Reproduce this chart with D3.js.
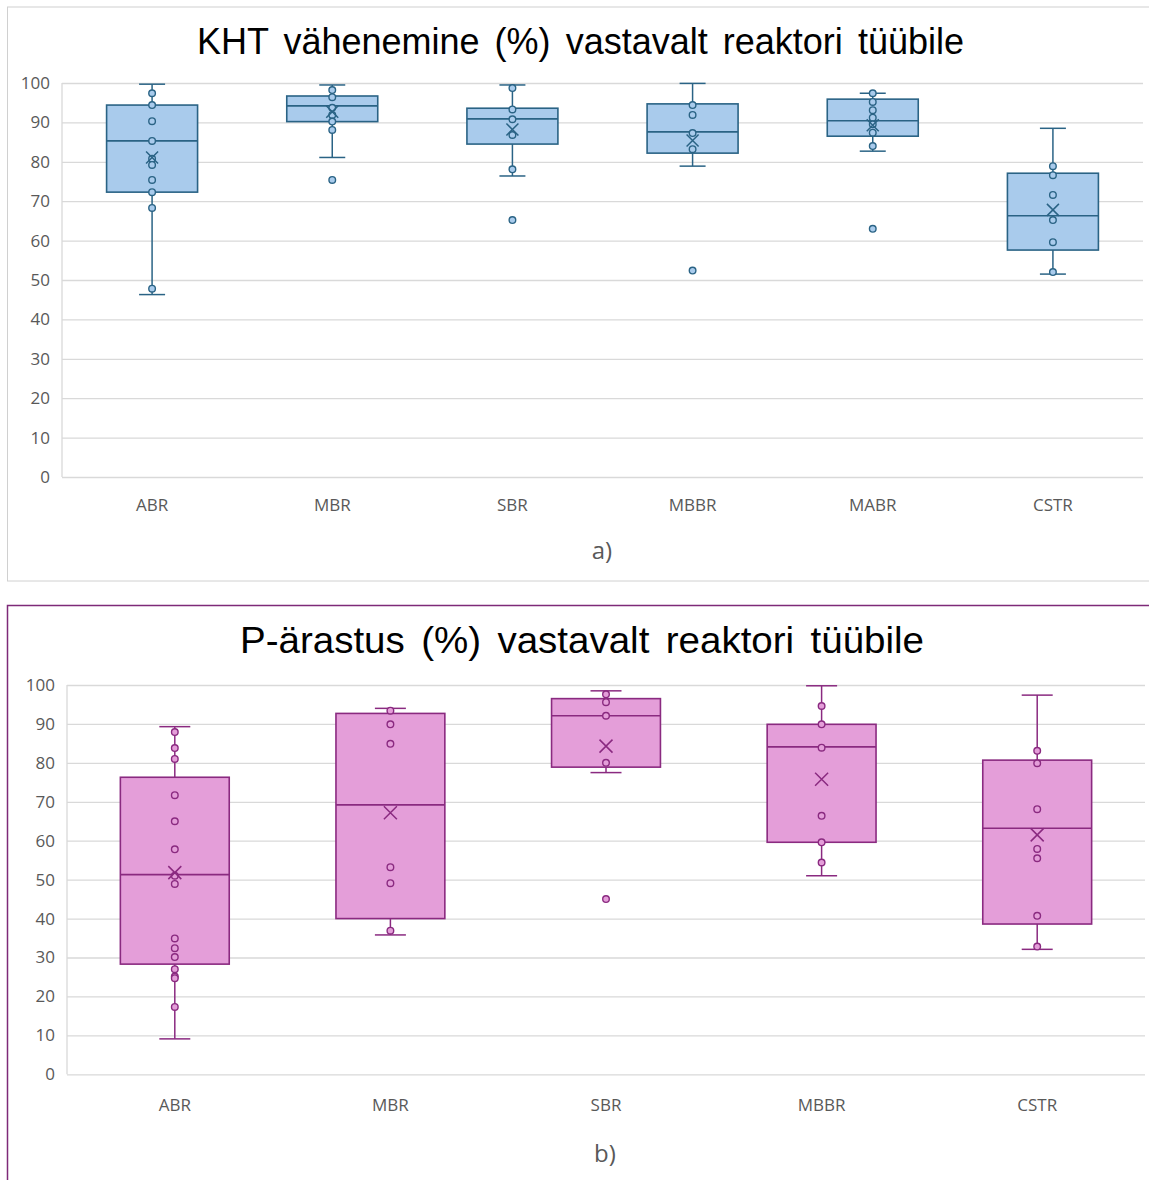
<!DOCTYPE html>
<html>
<head>
<meta charset="utf-8">
<script src="https://cdn.jsdelivr.net/npm/d3@7"></script>
<style>
  html, body { margin: 0; padding: 0; background: #fff; }
  svg { display: block; }
</style>
</head>
<body>
<svg id="chart" width="1149" height="1180"></svg>
<script>
// ---------- Data: chart a) KHT vähenemine ----------
const titleA = "KHT vähenemine (%) vastavalt reaktori tüübile";
const catsA = ["ABR", "MBR", "SBR", "MBBR", "MABR", "CSTR"];
const minA  = [46.3, 81.1, 76.4, 78.9, 82.7, 51.5];
const q1A   = [72.3, 90.2, 84.5, 82.2, 86.5, 57.6];
const medA  = [85.3, 94.2, 90.9, 87.6, 90.4, 66.3];
const q3A   = [94.4, 96.7, 93.6, 94.7, 95.9, 77.1];
const maxA  = [99.7, 99.5, 99.5, 99.9, 97.4, 88.5];
const meanA = [81.1, 92.7, 88.2, 85.4, 89.3, 67.8];
const ptsA  = [
  [97.4, 94.4, 90.3, 85.3, 80.8, 79.2, 75.4, 72.3, 68.3, 47.8],
  [98.2, 96.4, 93.7, 91.9, 90.2, 88.1, 75.4],
  [98.7, 93.3, 90.8, 86.8, 78.1, 65.2],
  [94.4, 91.9, 87.3, 83.2, 52.4],
  [97.4, 95.2, 93.1, 91.2, 89.5, 87.4, 84.0, 63.0],
  [78.9, 76.6, 71.6, 65.2, 59.6, 52.0]
];

// ---------- Data: chart b) P-ärastus ----------
const titleB = "P-ärastus (%) vastavalt reaktori tüübile";
const catsB = ["ABR", "MBR", "SBR", "MBBR", "CSTR"];
const minB  = [9.1, 35.8, 77.5, 51.0, 32.1];
const q1B   = [28.3, 40.0, 78.9, 59.6, 38.6];
const medB  = [51.3, 69.2, 92.1, 84.1, 63.2];
const q3B   = [76.3, 92.7, 96.5, 89.9, 80.7];
const maxB  = [89.3, 94.0, 98.5, 99.8, 97.4];
const meanB = [51.8, 67.2, 84.3, 75.8, 61.5];
const ptsB  = [
  [87.9, 83.8, 81.0, 71.7, 65.0, 57.8, 51.0, 48.9, 34.9, 32.4, 30.1, 27.0, 25.1, 24.7, 17.3],
  [93.4, 89.9, 84.9, 53.2, 49.1, 36.9],
  [97.6, 95.6, 92.1, 80.0, 45.0],
  [94.6, 89.9, 83.9, 66.4, 59.6, 54.4],
  [83.1, 79.9, 68.1, 57.9, 55.5, 40.7, 32.8]
];

const yTicks = [0, 10, 20, 30, 40, 50, 60, 70, 80, 90, 100];

const svg = d3.select("#chart");

// panel frames
svg.append("rect").attr("x", 7.5).attr("y", 7).attr("width", 1160).attr("height", 574)
  .attr("fill", "none").attr("stroke", "#d0d0d0").attr("stroke-width", 1);
svg.append("rect").attr("x", 7.5).attr("y", 605.5).attr("width", 1160).attr("height", 600)
  .attr("fill", "none").attr("stroke", "#7e2a78").attr("stroke-width", 1.5);

function drawChart(cfg) {
  const g = svg.append("g");
  const x = d3.scaleBand().domain(cfg.cats).range([cfg.left, cfg.right]).padding(0);
  const y = d3.scaleLinear().domain([0, 100]).range([cfg.bottom, cfg.top]);
  const plotW = cfg.right - cfg.left;

  // y axis with gridlines
  const ya = g.append("g").attr("transform", `translate(${cfg.left},0)`)
    .call(d3.axisLeft(y).tickValues(yTicks).tickSize(-plotW).tickPadding(12));
  ya.select(".domain").remove();
  ya.selectAll(".tick line").attr("stroke", "#d9d9d9").attr("stroke-width", 1.3);
  ya.selectAll(".tick text").attr("fill", "#595959")
    .style("font-family", "'Open Sans', sans-serif").style("font-size", "17px");
  // left plot border
  g.append("line").attr("x1", cfg.left).attr("x2", cfg.left)
    .attr("y1", y(100)).attr("y2", y(0)).attr("stroke", "#d9d9d9").attr("stroke-width", 1.3);

  // x axis labels
  const xa = g.append("g").attr("transform", `translate(0,${cfg.bottom})`)
    .call(d3.axisBottom(x).tickSize(0).tickPadding(cfg.xPad));
  xa.select(".domain").remove();
  xa.selectAll(".tick text").attr("fill", "#595959")
    .style("font-family", "'Open Sans', sans-serif").style("font-size", "17px");

  const bw = x.bandwidth() * cfg.boxFrac;
  const cw = cfg.capW;

  cfg.cats.forEach((c, i) => {
    const cx = x(c) + x.bandwidth() / 2;
    const bg = g.append("g");
    // whiskers
    bg.append("line").attr("x1", cx).attr("x2", cx).attr("y1", y(cfg.max[i])).attr("y2", y(cfg.q3[i]))
      .attr("stroke", cfg.stroke).attr("stroke-width", 1.5);
    bg.append("line").attr("x1", cx).attr("x2", cx).attr("y1", y(cfg.q1[i])).attr("y2", y(cfg.min[i]))
      .attr("stroke", cfg.stroke).attr("stroke-width", 1.5);
    [cfg.max[i], cfg.min[i]].forEach(v => {
      bg.append("line").attr("x1", cx - cw / 2).attr("x2", cx + cw / 2).attr("y1", y(v)).attr("y2", y(v))
        .attr("stroke", cfg.stroke).attr("stroke-width", 1.5);
    });
    // box
    bg.append("rect").attr("x", cx - bw / 2).attr("width", bw)
      .attr("y", y(cfg.q3[i])).attr("height", y(cfg.q1[i]) - y(cfg.q3[i]))
      .attr("fill", cfg.fill).attr("stroke", cfg.stroke).attr("stroke-width", 1.6);
    // median
    bg.append("line").attr("x1", cx - bw / 2).attr("x2", cx + bw / 2)
      .attr("y1", y(cfg.med[i])).attr("y2", y(cfg.med[i]))
      .attr("stroke", cfg.stroke).attr("stroke-width", 1.6);
    // points
    bg.selectAll("circle").data(cfg.pts[i]).join("circle")
      .attr("cx", cx).attr("cy", d => y(d)).attr("r", 3.3)
      .attr("fill", cfg.fill).attr("stroke", cfg.stroke).attr("stroke-width", 1.4);
    // mean X
    const m = y(cfg.mean[i]), s = cfg.xSize;
    bg.append("path").attr("d", `M${cx - s},${m - s}L${cx + s},${m + s}M${cx - s},${m + s}L${cx + s},${m - s}`)
      .attr("stroke", cfg.stroke).attr("stroke-width", 1.5).attr("fill", "none");
  });

  // title (glyph width factor and word spacing fitted to the reference width)
  const sx = cfg.titleScale;
  const t = g.append("text")
    .attr("transform", `translate(${cfg.titleX},${cfg.titleY}) scale(${sx},1)`)
    .attr("text-anchor", "middle").attr("fill", "#000")
    .style("font-family", "'Liberation Sans', Arial, sans-serif").style("font-size", cfg.titleSize + "px")
    .text(cfg.title);
  const len = t.node().getComputedTextLength();
  const spaces = (cfg.title.match(/ /g) || []).length;
  const ws = (cfg.titleW / sx - len) / spaces;
  if (spaces > 0) t.attr("word-spacing", ws);

  // sub label
  g.append("text").attr("x", cfg.subX).attr("y", cfg.subY).attr("text-anchor", "middle")
    .attr("fill", "#595959").style("font-family", "'Open Sans', sans-serif").style("font-size", "24px")
    .text(cfg.sub);
}

drawChart({
  cats: catsA, min: minA, q1: q1A, med: medA, q3: q3A, max: maxA, mean: meanA, pts: ptsA,
  left: 62, right: 1143, top: 83, bottom: 477, xPad: 22,
  boxFrac: 0.505, capW: 26, xSize: 6,
  fill: "#a9cbec", stroke: "#2a6385",
  title: titleA, titleX: 580.5, titleY: 53.5, titleSize: 36, titleScale: 1.0, titleW: 767,
  sub: "a)", subX: 602, subY: 559
});

drawChart({
  cats: catsB, min: minB, q1: q1B, med: medB, q3: q3B, max: maxB, mean: meanB, pts: ptsB,
  left: 67, right: 1145, top: 685, bottom: 1074.3, xPad: 25,
  boxFrac: 0.505, capW: 31, xSize: 6.5,
  fill: "#e49ed9", stroke: "#8a2a80",
  title: titleB, titleX: 582, titleY: 653, titleSize: 36, titleScale: 1.07, titleW: 684,
  sub: "b)", subX: 605, subY: 1162
});
</script>
</body>
</html>
